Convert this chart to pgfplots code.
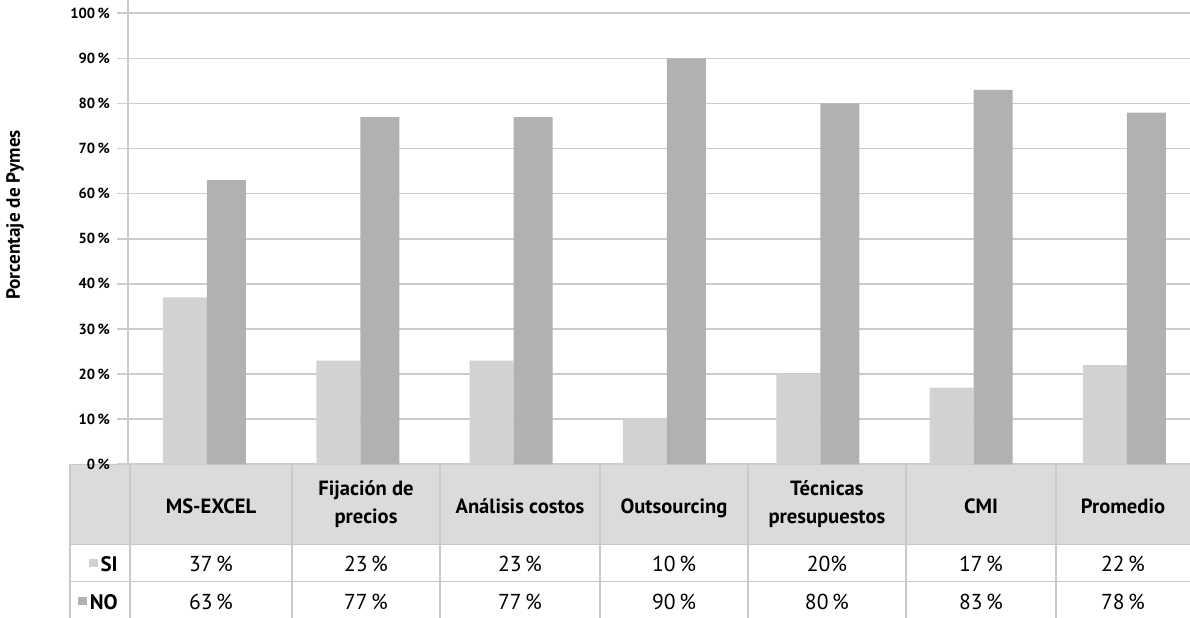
\documentclass[border=0pt]{standalone}
\usepackage{fontspec}
\setmainfont{PT Sans}
\usepackage{pgfplots}
\pgfplotsset{compat=1.18}
\definecolor{siC}{RGB}{209,210,212}
\definecolor{noC}{RGB}{177,177,179}
\definecolor{hdrC}{RGB}{218,219,221}
\definecolor{lineC}{RGB}{200,201,203}
\definecolor{gridC}{RGB}{204,204,204}
\newcommand{\sq}[1]{\raisebox{2pt}{\textcolor{#1}{\rule{4.2pt}{4.2pt}}}}
\begin{document}
\begin{tikzpicture}
\begin{axis}[
  set layers,
  scale only axis, width=531pt, height=232.15pt,
  xmin=-0.515, xmax=6.411, ymin=0, ymax=102.95,
  clip=false,
  axis x line=none,
  axis y line*=left,
  y axis line style={draw=gridC, line width=0.8pt},
  ytick={0,10,...,100},
  ymajorgrids, grid style={gridC, line width=0.8pt},
  major tick style={gridC, line width=0.8pt},
  tick align=outside, major tick length=5.5pt,
  /pgf/number format/assume math mode=true,
  yticklabel={\pgfmathprintnumber{\tick}\,\%},
  yticklabel style={font=\bfseries\fontsize{7.3}{8.5}\selectfont},
]
% SI / NO series
\addplot[ybar, bar width=0.287, bar shift=-0.1435, fill=siC, draw=none]
  coordinates {(0,37) (1,23) (2,23) (3,10) (4,20) (5,17) (6,22)};
\addplot[ybar, bar width=0.254, bar shift=0.127, fill=noC, draw=none]
  coordinates {(0,63) (1,77) (2,77) (3,90) (4,80) (5,83) (6,78)};

% data table below the plot (grid of the table kept under the tick labels)
\begin{pgfonlayer}{axis background}
\fill[hdrC] (axis cs:-0.893,0) rectangle (axis cs:6.411,-17.74);
\draw[lineC, line width=0.75pt] (axis cs:-0.893,0) -- (axis cs:6.411,0);
\draw[lineC, line width=0.75pt] (axis cs:-0.893,-17.74) -- (axis cs:6.411,-17.74);
\draw[lineC, line width=0.75pt] (axis cs:-0.893,-26.03) -- (axis cs:6.411,-26.03);
\end{pgfonlayer}
\pgfplotsinvokeforeach{-0.893,-0.502,0.554,1.520,2.563,3.528,4.559,5.537}{
  \draw[lineC, line width=0.75pt] (axis cs:#1,0) -- (axis cs:#1,-34.08);
}

% column headers: one-line names sit on a common baseline
\begin{scope}[every node/.style={font=\bfseries\fontsize{10.3}{14}\selectfont, align=center}]
\node[anchor=base] at (axis cs:0.026,-10.9) {MS-EXCEL};
\node at (axis cs:1.037,-8.9) {Fijación de\\precios};
\node[anchor=base] at (axis cs:2.041,-10.9) {Análisis costos};
\node[anchor=base] at (axis cs:3.046,-10.9) {Outsourcing};
\node at (axis cs:4.043,-8.9) {Técnicas\\presupuestos};
\node[anchor=base] at (axis cs:5.048,-10.9) {CMI};
\node[anchor=base] at (axis cs:5.974,-10.9) {Promedio};
\end{scope}

\begin{scope}[every node/.style={font=\fontsize{10.8}{12}\selectfont, anchor=base}]
\node at (axis cs:0.026,-23.7) {37\,\%};
\node at (axis cs:1.037,-23.7) {23\,\%};
\node at (axis cs:2.041,-23.7) {23\,\%};
\node at (axis cs:3.046,-23.7) {10\,\%};
\node at (axis cs:4.043,-23.7) {20\%};
\node at (axis cs:5.048,-23.7) {17\,\%};
\node at (axis cs:5.974,-23.7) {22\,\%};
\node at (axis cs:0.026,-32.1) {63\,\%};
\node at (axis cs:1.037,-32.1) {77\,\%};
\node at (axis cs:2.041,-32.1) {77\,\%};
\node at (axis cs:3.046,-32.1) {90\,\%};
\node at (axis cs:4.043,-32.1) {80\,\%};
\node at (axis cs:5.048,-32.1) {83\,\%};
\node at (axis cs:5.974,-32.1) {78\,\%};
\end{scope}

\node[anchor=base east, inner sep=0pt, font=\bfseries\fontsize{10.5}{12}\selectfont]
  at (axis cs:-0.580,-23.7) {\sq{siC}\hspace{1.5pt}SI};
\node[anchor=base east, inner sep=0pt, font=\bfseries\fontsize{10.5}{12}\selectfont]
  at (axis cs:-0.580,-32.1) {\sq{noC}\hspace{1.5pt}NO};

\node[rotate=90, font=\bfseries\fontsize{9.6}{11}\selectfont]
  at (axis cs:-1.252,55.3) {Porcentaje de Pymes};

\coordinate (TL) at (axis cs:-1.350,102.95);
\coordinate (BR) at (axis cs:6.411,-34.08);
\end{axis}
\pgfresetboundingbox
\path[use as bounding box] (TL) rectangle (BR);
\end{tikzpicture}
\end{document}
